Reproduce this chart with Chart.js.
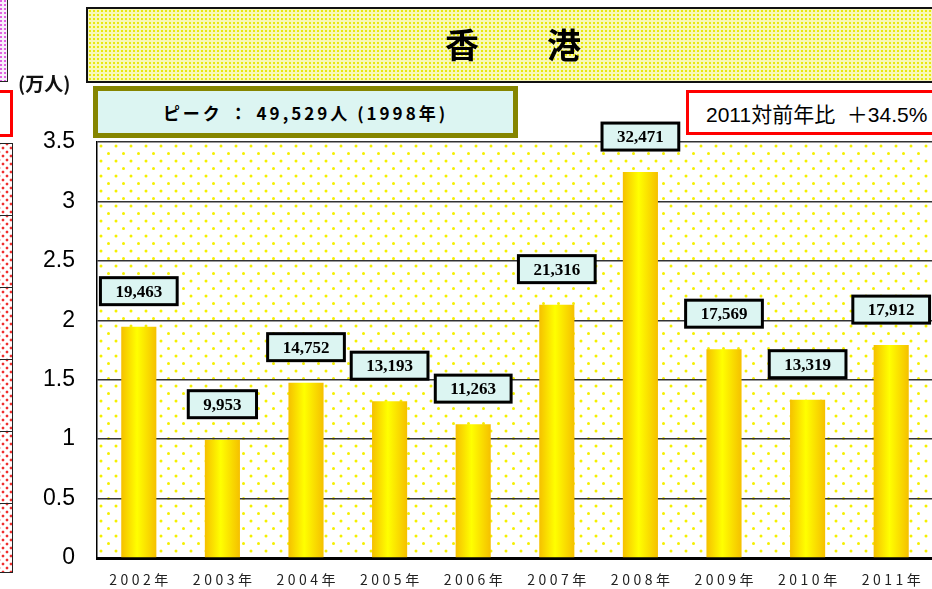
<!DOCTYPE html>
<html>
<head>
<meta charset="utf-8">
<script src="https://cdn.jsdelivr.net/npm/chart.js@4"></script>
<style>
  html, body { margin: 0; padding: 0; background: #fff; overflow: hidden; width: 932px; height: 589px; }
  #wrap { position: absolute; left: 0; top: 0; width: 936px; height: 589px; }
  .abs { position: absolute; box-sizing: border-box; }
  .mid { display: flex; align-items: center; }
  #titleBox {
    left: 86px; top: 7px; width: 860px; height: 76px;
    border: 2px solid #111;
    background-color: #f8f8b8;
    background-image: radial-gradient(circle, #e8e810 0.9px, transparent 1.3px);
    background-size: 4px 4px;
  }
  #title {
    left: 86px; top: 5px; width: 854px; height: 76px; justify-content: center;
    font: bold 34px "Noto Sans CJK JP", sans-serif; color: #000;
  }
  #unit { left: 18px; top: 70px; height: 24px; font: bold 19px "Noto Sans CJK JP", sans-serif; color: #111; }
  #peak {
    left: 93px; top: 86px; width: 425px; height: 52px; justify-content: center;
    border: 5px solid #858500; background: #dcf5f2;
    font: bold 17px "Noto Sans CJK JP", sans-serif; letter-spacing: 3px; color: #000;
  }
  #yoy {
    left: 686px; top: 90px; width: 260px; height: 45px;
    border: 3px solid #f00; background: #fff;
    font: 21px "Liberation Sans", "Noto Sans CJK JP", sans-serif; color: #000;
    padding-left: 17px; white-space: pre;
  }
  #lbTop {
    left: -2px; top: -2px; width: 10px; height: 84px; border: 1.5px solid #222;
    background-color: #f6effa;
    background-image: radial-gradient(circle, #e060e0 0.8px, transparent 1.2px);
    background-size: 4px 4px;
  }
  #lbRed { left: -4px; top: 90px; width: 17px; height: 47px; border: 3px solid #f00; background: #fff; }
  .lbDot {
    left: -2px; width: 15px; height: 73px; border: 1.5px solid #222;
    background-color: #fff;
    background-image: radial-gradient(circle, #f03030 1.2px, transparent 1.7px), radial-gradient(circle, #f03030 1.2px, transparent 1.7px);
    background-size: 8px 8px, 8px 8px;
    background-position: 0 0, 4px 4px;
  }
</style>
</head>
<body>
<div id="wrap">
  <canvas id="chart" width="936" height="589"></canvas>
</div>
<div class="abs" id="lbTop"></div>
<div class="abs" id="lbRed"></div>
<div class="abs lbDot" style="top:143px"></div>
<div class="abs lbDot" style="top:215px"></div>
<div class="abs lbDot" style="top:287px"></div>
<div class="abs lbDot" style="top:359px"></div>
<div class="abs lbDot" style="top:431px"></div>
<div class="abs lbDot" style="top:503px;height:70px"></div>
<div class="abs" id="titleBox"></div>
<div class="abs mid" id="title">香　　港</div>
<div class="abs mid" id="unit">(万人)</div>
<div class="abs mid" id="peak">ピーク ： 49,529人 (1998年)</div>
<div class="abs mid" id="yoy">2011対前年比  ＋34.5%</div>

<script>
// ===== Dados =====
const years = ['2002年', '2003年', '2004年', '2005年', '2006年', '2007年', '2008年', '2009年', '2010年', '2011年'];
const visitors = [19463, 9953, 14752, 13193, 11263, 21316, 32471, 17569, 13319, 17912]; // pessoas
const yTicks = [0, 0.5, 1, 1.5, 2, 2.5, 3, 3.5]; // 万人

const barValues = visitors.map(v => v / 10000);

// ===== Fundo pontilhado da área do gráfico =====
function dotPattern(ctx) {
  const c = document.createElement('canvas');
  c.width = 15; c.height = 15;
  const p = c.getContext('2d');
  p.fillStyle = '#fff';
  p.fillRect(0, 0, 15, 15);
  p.fillStyle = '#f4f000';
  p.beginPath(); p.arc(3.5, 3.5, 1.5, 0, Math.PI * 2); p.fill();
  p.beginPath(); p.arc(11, 11, 1.5, 0, Math.PI * 2); p.fill();
  return ctx.createPattern(c, 'repeat');
}

const plotBackground = {
  id: 'plotBackground',
  beforeDraw(chart) {
    const { ctx, chartArea: a } = chart;
    ctx.save();
    ctx.fillStyle = dotPattern(ctx);
    ctx.fillRect(a.left, a.top, a.right - a.left, a.bottom - a.top);
    ctx.restore();
  }
};

// --- caixinhas com os valores acima das barras ---
const valueBoxes = {
  id: 'valueBoxes',
  afterDatasetsDraw(chart) {
    const ctx = chart.ctx;
    const meta = chart.getDatasetMeta(0);
    ctx.save();
    ctx.font = 'bold 17px "Liberation Serif", "Times New Roman", serif';
    ctx.textAlign = 'center';
    ctx.textBaseline = 'middle';
    meta.data.forEach((bar, i) => {
      const text = visitors[i].toLocaleString('en-US');
      const w = ctx.measureText(text).width + 30;
      const h = 27;
      const bottom = bar.y - 22;
      ctx.fillStyle = '#dcf5f2';
      ctx.fillRect(bar.x - w / 2, bottom - h, w, h);
      ctx.lineWidth = 3;
      ctx.strokeStyle = '#000';
      ctx.strokeRect(bar.x - w / 2, bottom - h, w, h);
      ctx.fillStyle = '#000';
      ctx.fillText(text, bar.x, bottom - h / 2 + 1);
    });
    ctx.restore();
  }
};

// gradiente horizontal de cada barra (dourado nas bordas, amarelo no meio)
function barGradient(c) {
  const chart = c.chart;
  const xs = chart.scales.x;
  if (!xs || c.dataIndex === undefined) return '#ffe000';
  const cx = xs.getPixelForValue(c.dataIndex);
  const w = xs.width / years.length * 0.42;
  if (!isFinite(cx) || !isFinite(w) || w <= 0) return '#ffe000';
  const g = chart.ctx.createLinearGradient(cx - w / 2, 0, cx + w / 2, 0);
  g.addColorStop(0, '#f5c000');
  g.addColorStop(0.45, '#ffff00');
  g.addColorStop(1, '#f5c000');
  return g;
}

new Chart(document.getElementById('chart').getContext('2d'), {
  type: 'bar',
  data: {
    labels: years,
    datasets: [{
      data: barValues,
      backgroundColor: barGradient,
      borderWidth: 0,
      categoryPercentage: 1,
      barPercentage: 0.42
    }]
  },
  options: {
    responsive: false,
    animation: false,
    devicePixelRatio: 1,
    layout: { padding: { left: 0, top: 142, right: 3, bottom: 0 } },
    plugins: { legend: { display: false }, tooltip: { enabled: false } },
    scales: {
      x: {
        afterFit: s => { s.height = 31; },
        grid: { display: false },
        border: { color: '#000', width: 3 },
        ticks: {
          padding: 5,
          color: '#222',
          font: { family: '"Noto Sans CJK JP", sans-serif', size: 14 },
          callback: (v, i) => years[i].split('').join('\u2005')
        }
      },
      y: {
        min: 0,
        max: 3.5,
        afterFit: s => { s.width = 97; s.paddingTop = 0; s.paddingBottom = 0; },
        afterBuildTicks: s => { s.ticks = yTicks.map(v => ({ value: v })); },
        grid: { color: '#333', lineWidth: 1.5, drawTicks: false },
        border: { color: '#000', width: 1.5 },
        ticks: {
          padding: 22,
          color: '#000',
          font: { family: '"Liberation Sans", Arial, sans-serif', size: 23 },
          callback: v => String(v)
        }
      }
    }
  },
  plugins: [plotBackground, valueBoxes]
});
</script>
</body>
</html>
